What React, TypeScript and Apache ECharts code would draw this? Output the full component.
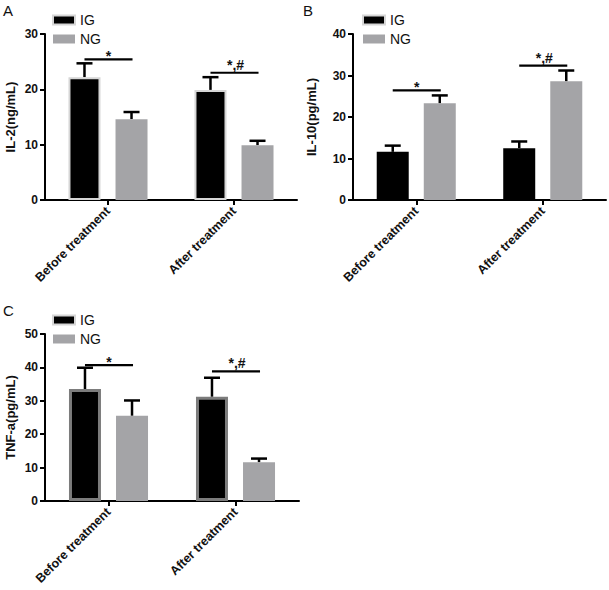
import React, { useEffect, useRef } from "react";
import * as echarts from "echarts";

const categories = ["Before treatment", "After treatment"];
const groups = ["IG", "NG"];

// Panel A: IL-2 (ng/mL)
const il2IG = [22.2, 19.9];
const il2IGSd = [2.5, 2.3];
const il2NG = [14.6, 9.9];
const il2NGSd = [1.3, 0.8];
const il2SigY = [25.4, 23.0];

// Panel B: IL-10 (pg/mL)
const il10IG = [11.6, 12.5];
const il10IGSd = [1.5, 1.6];
const il10NG = [23.3, 28.6];
const il10NGSd = [1.9, 2.6];
const il10SigY = [26.4, 32.4];

// Panel C: TNF-a (pg/mL)
const tnfIG = [33.5, 31.2];
const tnfIGSd = [6.4, 5.7];
const tnfNG = [25.5, 11.6];
const tnfNGSd = [4.6, 1.1];
const tnfSigY = [40.7, 38.8];

const sigLabels = ["*", "*,#"];
const yMax = [30, 40, 50];
const yTicks = [10, 10, 10];
const yNames = ["IL-2(ng/mL)", "IL-10(pg/mL)", "TNF-a(pg/mL)"];
const panelLetters = ["A", "B", "C"];

const FONT = "Arial, 'Liberation Sans', Helvetica, sans-serif";
const BLACK = "#000000";
const GRAY = "#a4a4a7";
const TEXT = "#111111";
const BAR_W = 32;
const BAR_GAP = 0.47;
const OFFSET = (BAR_W + BAR_W * BAR_GAP) / 2;

type Panel = {
  ig: number[];
  igSd: number[];
  ng: number[];
  ngSd: number[];
  sig: number[];
  grid: { left: number; top: number; width: number; height: number };
  nameGap: number;
  igBorder: { color: string; width: number };
  legendLeft: number;
  legendTop: number;
  letter: { x: number; y: number };
};

const panels: Panel[] = [
  {
    ig: il2IG, igSd: il2IGSd, ng: il2NG, ngSd: il2NGSd, sig: il2SigY,
    grid: { left: 45, top: 34, width: 252, height: 166 },
    nameGap: 28,
    igBorder: { color: "#d6d6d6", width: 2 },
    legendLeft: 47, legendTop: 8,
    letter: { x: 3, y: 3 },
  },
  {
    ig: il10IG, igSd: il10IGSd, ng: il10NG, ngSd: il10NGSd, sig: il10SigY,
    grid: { left: 353, top: 34, width: 253, height: 166 },
    nameGap: 35,
    igBorder: { color: "#000000", width: 0 },
    legendLeft: 357, legendTop: 8,
    letter: { x: 303, y: 3 },
  },
  {
    ig: tnfIG, igSd: tnfIGSd, ng: tnfNG, ngSd: tnfNGSd, sig: tnfSigY,
    grid: { left: 45, top: 334, width: 254, height: 167 },
    nameGap: 28,
    igBorder: { color: "#7c7c7c", width: 3 },
    legendLeft: 47, legendTop: 308,
    letter: { x: 3, y: 303 },
  },
];

function errorSeries(idx: number, vals: number[], sds: number[], sign: number) {
  return {
    type: "custom",
    xAxisIndex: idx,
    yAxisIndex: idx,
    silent: true,
    z: 1,
    data: vals.map((v, i) => [i, v, sds[i]]),
    encode: { x: 0, y: 1 },
    renderItem: (params: any, api: any) => {
      const cat = api.value(0);
      const v = api.value(1);
      const sd = api.value(2);
      const base = api.coord([cat, v]);
      const top = api.coord([cat, v + sd]);
      const x = base[0] + sign * OFFSET;
      const style = { stroke: "#000", lineWidth: 2.5 };
      return {
        type: "group",
        children: [
          { type: "line", shape: { x1: x, y1: base[1], x2: x, y2: top[1] }, style },
          { type: "line", shape: { x1: x - 8, y1: top[1], x2: x + 8, y2: top[1] }, style },
        ],
      };
    },
  };
}

function sigSeries(idx: number, ys: number[]) {
  return {
    type: "custom",
    xAxisIndex: idx,
    yAxisIndex: idx,
    silent: true,
    z: 3,
    data: ys.map((y, i) => [i, y]),
    encode: { x: 0, y: 1 },
    renderItem: (params: any, api: any) => {
      const cat = api.value(0);
      const y = api.value(1);
      const p = api.coord([cat, y]);
      const x1 = p[0] - OFFSET;
      const x2 = p[0] + OFFSET + 1;
      const label = sigLabels[params.dataIndex];
      const single = label === "*";
      return {
        type: "group",
        children: [
          {
            type: "line",
            shape: { x1, y1: p[1], x2, y2: p[1] },
            style: { stroke: "#000", lineWidth: 2.2 },
          },
          {
            type: "text",
            x: (x1 + x2) / 2 + (single ? 0 : 1),
            y: single ? p[1] + 4 : p[1] - 1,
            style: {
              text: label,
              fill: TEXT,
              font: `bold 14px ${FONT}`,
              textAlign: "center",
              textVerticalAlign: "bottom",
            },
          },
        ],
      };
    },
  };
}

export default function App() {
  const ref = useRef<HTMLDivElement>(null);

  useEffect(() => {
    if (!ref.current) return;
    const chart = echarts.init(ref.current, undefined, { renderer: "svg" });

    const grid = panels.map((p) => ({ ...p.grid, containLabel: false }));
    const xAxis = panels.map((p, i) => ({
      type: "category",
      gridIndex: i,
      data: categories,
      axisLine: { lineStyle: { color: "#000", width: 2 } },
      axisTick: { show: true, alignWithLabel: true, length: 5, lineStyle: { color: "#000", width: 2 } },
      axisLabel: {
        interval: 0,
        rotate: 45,
        margin: 9,
        color: TEXT,
        fontFamily: FONT,
        fontWeight: "bold",
        fontSize: 12.5,
      },
    }));
    const yAxis = panels.map((p, i) => ({
      type: "value",
      gridIndex: i,
      min: 0,
      max: yMax[i],
      interval: yTicks[i],
      name: yNames[i],
      nameLocation: "middle",
      nameGap: p.nameGap,
      nameRotate: 90,
      nameTextStyle: { color: TEXT, fontFamily: FONT, fontWeight: "bold", fontSize: 13 },
      splitLine: { show: false },
      axisLine: { show: true, lineStyle: { color: "#000", width: 2 } },
      axisTick: { show: true, length: 5, lineStyle: { color: "#000", width: 2 } },
      axisLabel: { color: TEXT, fontFamily: FONT, fontWeight: "bold", fontSize: 12, margin: 7 },
    }));

    const series: any[] = [];
    panels.forEach((p, i) => {
      series.push({
        type: "bar",
        name: groups[0],
        xAxisIndex: i,
        yAxisIndex: i,
        data: p.ig,
        barWidth: BAR_W,
        barGap: `${BAR_GAP * 100}%`,
        z: 2,
        itemStyle: { color: BLACK, borderColor: p.igBorder.color, borderWidth: p.igBorder.width },
      });
      series.push({
        type: "bar",
        name: groups[1],
        xAxisIndex: i,
        yAxisIndex: i,
        data: p.ng,
        barWidth: BAR_W,
        barGap: `${BAR_GAP * 100}%`,
        z: 2,
        itemStyle: { color: GRAY },
      });
      series.push(errorSeries(i, p.ig, p.igSd, -1));
      series.push(errorSeries(i, p.ng, p.ngSd, 1));
      series.push(sigSeries(i, p.sig));
    });

    const legend = panels.map((p) => ({
      data: groups,
      orient: "vertical",
      left: p.legendLeft,
      top: p.legendTop,
      icon: "rect",
      itemWidth: 22,
      itemHeight: 9,
      itemGap: 5,
      selectedMode: false,
      textStyle: { color: TEXT, fontFamily: FONT, fontSize: 14 },
    }));

    const graphic = panels.map((p, i) => ({
      type: "text",
      left: p.letter.x,
      top: p.letter.y,
      style: { text: panelLetters[i], fill: TEXT, font: `15px ${FONT}` },
    }));

    chart.setOption({
      animation: false,
      backgroundColor: "#ffffff",
      grid,
      xAxis,
      yAxis,
      legend,
      graphic,
      series,
    });

    return () => chart.dispose();
  }, []);

  return (
    <div
      ref={ref}
      style={{ position: "fixed", left: 0, top: 0, width: 609, height: 590, background: "#fff" }}
    />
  );
}
